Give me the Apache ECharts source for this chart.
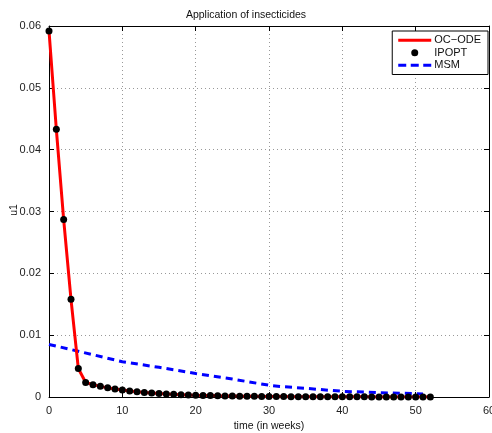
<!DOCTYPE html>
<html><head><meta charset="utf-8">
<script src="https://cdn.jsdelivr.net/npm/echarts@6/dist/echarts.min.js"></script>
<style>html,body{margin:0;padding:0;background:#fff}#c{width:492px;height:433px}</style>
</head><body><div id="c"></div>
<script>
var weeks = [0,1,2,3,4,5,6,7,8,9,10,11,12,13,14,15,16,17,18,19,20,21,22,23,24,25,26,27,28,29,30,31,32,33,34,35,36,37,38,39,40,41,42,43,44,45,46,47,48,49,50,51,52];
var ipopt = [0.0592,0.0433,0.0287,0.0158,0.0046,0.00235,0.0020,0.00172,0.00148,0.0013,0.00112,0.00097,0.00084,0.00073,0.00064,0.00056,0.00049,0.00043,0.00038,0.00033,0.00029,0.00026,0.00023,0.0002,0.00018,0.00016,0.00014,0.00012,0.00011,0.0001,0.00009,0.00008,0.00007,0.00006,0.00006,0.00005,0.00005,0.00004,0.00004,0.00004,0.00003,0.00003,0.00003,0.00003,0.00002,0.00002,0.00002,0.00002,0.00002,0.00002,0.00002,0.00002,0.00002];
var msmT = [0,4,10,15,20,25,30,31.5,35,40,45,50,51];
var msmU = [0.0085,0.0074,0.0057,0.0048,0.0038,0.0029,0.0019,0.0017,0.0014,0.00092,0.0007,0.00055,0.0005];
var xTicks = [0,10,20,30,40,50,60];
var yTicks = [0,0.01,0.02,0.03,0.04,0.05,0.06];

function pairs(a,b){return a.map(function(v,i){return [v,b[i]];});}
var chart = echarts.init(document.getElementById('c'));
var font = 'Liberation Sans, Arial, sans-serif';
var baseAxis = {
  min: 0, axisLine:{show:true,onZero:false,lineStyle:{color:'#000',width:1}},
  axisTick:{show:true,inside:true,length:5,lineStyle:{color:'#000'}},
  axisLabel:{color:'#222',fontSize:11,fontFamily:font},
  splitLine:{show:false}
};
var tiny = 'M0,0h0.05v0.05h-0.05z M0,6.95h0.05v0.05h-0.05z ';
chart.setOption({
  animation:false,
  title:{text:'Application of insecticides',left:'center',top:5,textStyle:{fontSize:10.5,fontWeight:'normal',color:'#111',fontFamily:font}},
  graphic:[{type:'text',x:14.5,y:210,rotation:Math.PI/2,style:{text:'u1',fontSize:10.5,fontFamily:font,fill:'#111',align:'center',verticalAlign:'middle'}}],
  grid:{left:49,right:3,top:26,bottom:36,containLabel:false,outerBoundsMode:'none'},
  legend:{
    right:4, top:31, orient:'vertical', backgroundColor:'#fff', borderColor:'#000', borderWidth:1,
    padding:[3,7,3,6], itemGap:0, itemWidth:33, itemHeight:7,
    textStyle:{fontSize:11,fontFamily:font,color:'#111',padding:[0,0,0,-2],lineHeight:12.5,height:12.5},
    data:[
      {name:'OC\u2212ODE',icon:'path://'+tiny+'M0,2h33v3h-33z'},
      {name:'IPOPT',icon:'circle'},
      {name:'MSM',icon:'path://'+tiny+'M0,2h8v3h-8z M12.5,2h8v3h-8z M25,2h8v3h-8z'}
    ]
  },
  xAxis:[
    Object.assign({},baseAxis,{type:'value',max:60,interval:10,name:'time (in weeks)',nameLocation:'middle',nameGap:17,
      nameTextStyle:{fontSize:10.5,color:'#111',fontFamily:font},
      splitLine:{show:true,lineStyle:{color:'#999',type:[1,3],width:1}}}),
    Object.assign({},baseAxis,{type:'value',max:60,interval:10,position:'top',axisLabel:{show:false}})
  ],
  yAxis:[
    Object.assign({},baseAxis,{type:'value',max:0.06,interval:0.01,
      axisLabel:{color:'#222',fontSize:11,fontFamily:font,formatter:function(v){return String(+v.toFixed(2));}},
      splitLine:{show:true,lineStyle:{color:'#999',type:[1,3],width:1}}}),
    Object.assign({},baseAxis,{type:'value',max:0.06,interval:0.01,position:'right',axisLabel:{show:false}})
  ],
  series:[
    {name:'OC\u2212ODE',type:'line',data:pairs(weeks,ipopt),showSymbol:false,symbol:'none',lineStyle:{color:'#ff0000',width:3},itemStyle:{color:'#ff0000'},z:2},
    {name:'IPOPT',type:'scatter',data:pairs(weeks,ipopt),symbolSize:7,itemStyle:{color:'#000',opacity:1},z:3},
    {name:'MSM',type:'line',data:pairs(msmT,msmU),symbol:'none',lineStyle:{color:'#0000ff',width:3,type:[7,5]},itemStyle:{color:'#0000ff'},z:1}
  ]
});
</script></body></html>
